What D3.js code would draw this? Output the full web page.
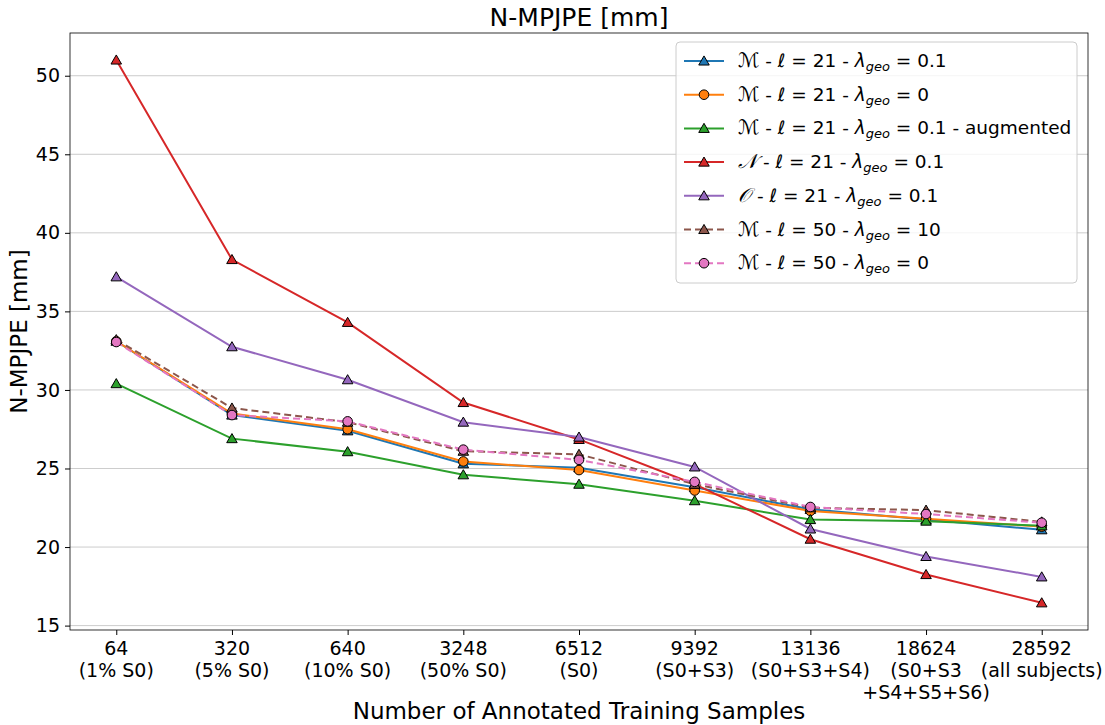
<!DOCTYPE html>
<html>
<head>
<meta charset="utf-8">
<script src="https://cdn.jsdelivr.net/npm/d3@7/dist/d3.min.js"></script>
<style>
  body { margin: 0; background: #fff; }
  text { font-family: 'DejaVu Sans', sans-serif; fill: #000; }
</style>
</head>
<body>
<div id="chart"></div>
<script>
// data
var categories = ['64', '320', '640', '3248', '6512', '9392', '13136', '18624', '28592']
var subLabels = [
  ['(1% S0)'], ['(5% S0)'], ['(10% S0)'], ['(50% S0)'], ['(S0)'],
  ['(S0+S3)'], ['(S0+S3+S4)'], ['(S0+S3', '+S4+S5+S6)'], ['(all subjects)']
]
var yTicks = [15, 20, 25, 30, 35, 40, 45, 50]

var m21geo01 = [33.1, 28.4, 27.4, 25.3, 25.05, 23.8, 22.4, 21.75, 21.1]
var m21geo0 = [33.1, 28.5, 27.5, 25.45, 24.9, 23.6, 22.3, 21.8, 21.3]
var m21aug = [30.4, 26.9, 26.07, 24.6, 24.0, 22.95, 21.75, 21.65, 21.35]
var n21geo01 = [51.0, 38.3, 34.3, 29.2, 26.85, 24.0, 20.5, 18.25, 16.45]
var o21geo01 = [37.2, 32.75, 30.65, 27.95, 27.0, 25.1, 21.15, 19.4, 18.1]
var m50geo10 = [33.2, 28.85, 27.95, 26.1, 25.9, 24.0, 22.5, 22.35, 21.6]
var m50geo0 = [33.05, 28.4, 28.0, 26.2, 25.55, 24.15, 22.55, 22.1, 21.55]

var series = [
  { name: 'ℳ', l: 21, lam: '0.1', extra: '', values: m21geo01, color: '#1f77b4', marker: 'tri', dash: null },
  { name: 'ℳ', l: 21, lam: '0', extra: '', values: m21geo0, color: '#ff7f0e', marker: 'circle', dash: null },
  { name: 'ℳ', l: 21, lam: '0.1', extra: ' - augmented', values: m21aug, color: '#2ca02c', marker: 'tri', dash: null },
  { name: '𝒩', l: 21, lam: '0.1', extra: '', values: n21geo01, color: '#d62728', marker: 'tri', dash: null },
  { name: '𝒪', l: 21, lam: '0.1', extra: '', values: o21geo01, color: '#9467bd', marker: 'tri', dash: null },
  { name: 'ℳ', l: 50, lam: '10', extra: '', values: m50geo10, color: '#8c564b', marker: 'tri', dash: '7,4' },
  { name: 'ℳ', l: 50, lam: '0', extra: '', values: m50geo0, color: '#e377c2', marker: 'circle', dash: '7,4' }
]

var width = 1105
var height = 725
var margin = { top: 33, right: 17, bottom: 95, left: 70 }
var w = width - margin.left - margin.right
var h = height - margin.top - margin.bottom

var svg = d3.select('#chart').append('svg')
  .attr('width', width)
  .attr('height', height)

var g = svg.append('g')
  .attr('transform', 'translate(' + margin.left + ',' + margin.top + ')')

var x = d3.scaleLinear().domain([-0.4, categories.length - 1 + 0.4]).range([0, w])
var y = d3.scaleLinear().domain([14.72, 52.72]).range([h, 0])

// grid
g.selectAll('.grid').data(yTicks).enter().append('line')
  .attr('x1', 0).attr('x2', w)
  .attr('y1', d => y(d)).attr('y2', d => y(d))
  .attr('stroke', '#b0b0b0').attr('stroke-width', 0.8).attr('opacity', 0.8)

// y axis
var yAxis = g.append('g')
  .call(d3.axisLeft(y).tickValues(yTicks).tickSize(5).tickPadding(5))
yAxis.selectAll('text').attr('font-size', '19px').style('font-family', 'DejaVu Sans')
yAxis.select('.domain').remove()

// x axis
var xAxis = g.append('g')
  .attr('transform', 'translate(0,' + h + ')')
  .call(d3.axisBottom(x).tickValues(d3.range(categories.length)).tickSize(5).tickFormat(''))
xAxis.select('.domain').remove()

var xl = g.append('g').attr('transform', 'translate(0,' + h + ')')
categories.forEach(function (c, i) {
  var t = xl.append('text')
    .attr('x', x(i)).attr('y', 25)
    .attr('text-anchor', 'middle')
    .attr('font-size', '19px')
  t.append('tspan').attr('x', x(i)).attr('dy', 0).text(c)
  subLabels[i].forEach(function (s) {
    t.append('tspan').attr('x', x(i)).attr('dy', 22).text(s)
  })
})

// frame
g.append('rect').attr('width', w).attr('height', h)
  .attr('fill', 'none').attr('stroke', '#000').attr('stroke-width', 0.8)

// lines
var line = d3.line().x((d, i) => x(i)).y(d => y(d))
var tri = d3.symbol().type(d3.symbolTriangle).size(48)

series.forEach(function (s) {
  g.append('path')
    .datum(s.values)
    .attr('d', line)
    .attr('fill', 'none')
    .attr('stroke', s.color)
    .attr('stroke-width', 2)
    .attr('stroke-dasharray', s.dash)

  var mk = g.selectAll(null).data(s.values).enter()
  if (s.marker === 'tri') {
    mk.append('path')
      .attr('d', tri)
      .attr('transform', (d, i) => 'translate(' + x(i) + ',' + (y(d) + 1) + ')')
      .attr('fill', s.color).attr('stroke', '#000').attr('stroke-width', 1)
  } else {
    mk.append('circle')
      .attr('cx', (d, i) => x(i)).attr('cy', d => y(d)).attr('r', 4.8)
      .attr('fill', s.color).attr('stroke', '#000').attr('stroke-width', 1)
  }
})

// legend
var lg = svg.append('g').attr('transform', 'translate(676,42)')
lg.append('rect')
  .attr('width', 401).attr('height', 241).attr('rx', 4)
  .attr('fill', '#fff').attr('fill-opacity', 0.8)
  .attr('stroke', '#cccccc').attr('stroke-width', 1)

series.forEach(function (s, i) {
  var yy = 19 + i * 33.7
  lg.append('line')
    .attr('x1', 8).attr('x2', 48).attr('y1', yy).attr('y2', yy)
    .attr('stroke', s.color).attr('stroke-width', 2)
    .attr('stroke-dasharray', s.dash)
  if (s.marker === 'tri') {
    lg.append('path').attr('d', tri)
      .attr('transform', 'translate(28,' + (yy + 1) + ')')
      .attr('fill', s.color).attr('stroke', '#000').attr('stroke-width', 1)
  } else {
    lg.append('circle').attr('cx', 28).attr('cy', yy).attr('r', 4.8)
      .attr('fill', s.color).attr('stroke', '#000').attr('stroke-width', 1)
  }
  var t = lg.append('text').attr('x', 62).attr('y', yy + 6).attr('font-size', '18.5px')
  t.append('tspan').attr('font-style', 'italic').attr('font-size', '20px').text(s.name)
  t.append('tspan').text(' - ')
  t.append('tspan').attr('font-style', 'italic').text('ℓ')
  t.append('tspan').text(' = ' + s.l + ' - ')
  t.append('tspan').attr('font-style', 'italic').text('λ')
  t.append('tspan').attr('font-style', 'italic').attr('font-size', '13px').attr('dy', 4).text('geo')
  t.append('tspan').attr('dy', -4).text(' = ' + s.lam + s.extra)
})

// titles
svg.append('text')
  .attr('x', margin.left + w / 2).attr('y', 26)
  .attr('text-anchor', 'middle').attr('font-size', '25px')
  .text('N-MPJPE [mm]')

svg.append('text')
  .attr('x', margin.left + w / 2).attr('y', 719)
  .attr('text-anchor', 'middle').attr('font-size', '23px')
  .text('Number of Annotated Training Samples')

svg.append('text')
  .attr('transform', 'translate(27,' + (margin.top + h / 2) + ') rotate(-90)')
  .attr('text-anchor', 'middle').attr('font-size', '23px')
  .text('N-MPJPE [mm]')
</script>
</body>
</html>
